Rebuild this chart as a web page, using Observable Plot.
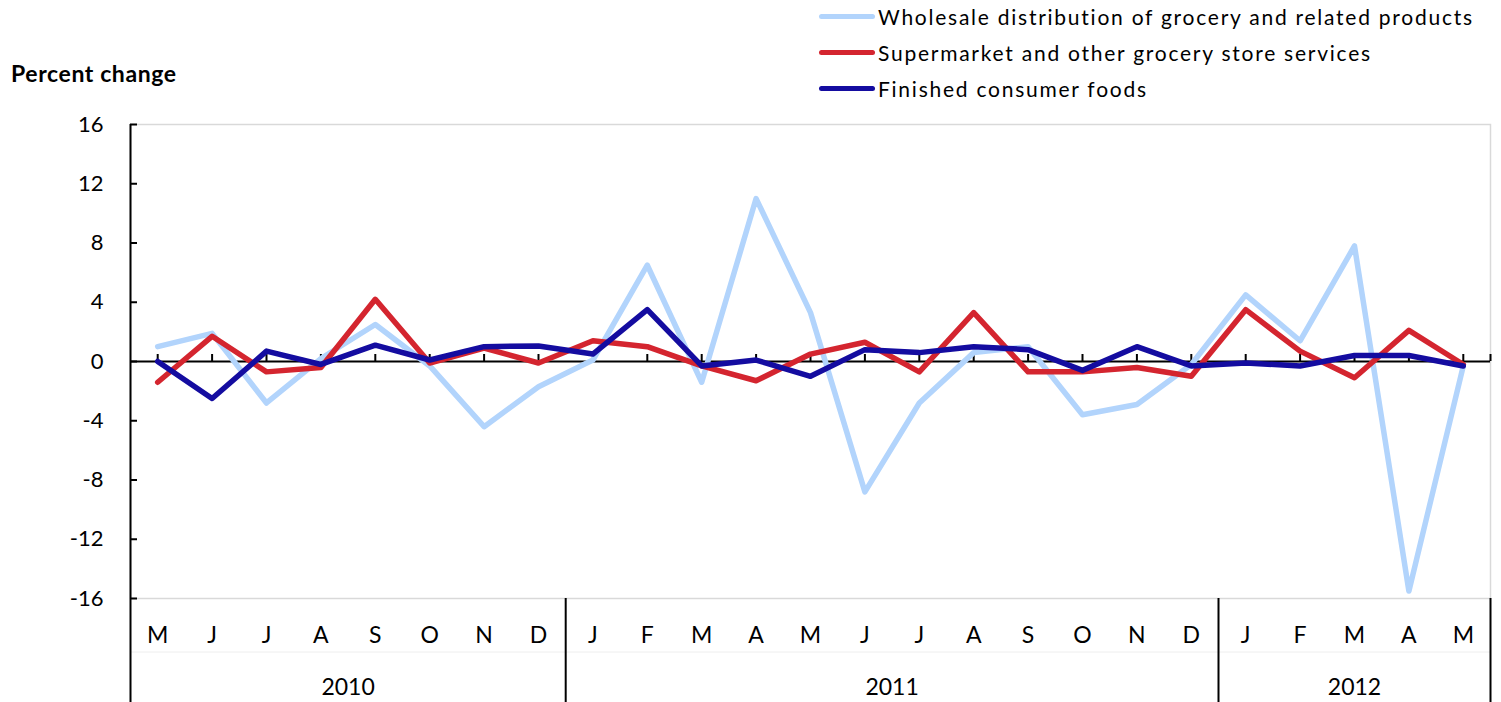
<!DOCTYPE html>
<html><head><meta charset="utf-8">
<script src="https://cdn.jsdelivr.net/npm/d3@7"></script>
<script src="https://cdn.jsdelivr.net/npm/@observablehq/plot@0.6"></script>
<style>
body{margin:0;background:#fff;font-family:Lato,sans-serif;color:#000;}
#header{position:relative;width:1501px;height:100px;}
#title{position:absolute;left:11px;top:62px;font-size:23px;line-height:23px;font-weight:bold;letter-spacing:0.6px;white-space:nowrap;}
.item{position:absolute;left:819px;height:21px;white-space:nowrap;}
.sw{position:absolute;left:0;top:8px;width:56px;height:5px;border-radius:3px;}
.lab{position:absolute;left:59px;top:0;font-size:21px;line-height:21px;letter-spacing:1.75px;}
svg{display:block;}
</style></head><body>
<div id="header"><div id="title">Percent change</div></div>
<div id="chart"></div>
<script>
const months = ["M","J","J","A","S","O","N","D","J","F","M","A","M","J","J","A","S","O","N","D","J","F","M","A","M"];
const years = ["2010","2011","2012"];
const yearCenters = [3.5, 13.5, 22];
const yearBounds = [7.5, 19.5, 24.5];
const yTicks = [-16,-12,-8,-4,0,4,8,12,16];
const seriesNames = ["Wholesale distribution of grocery and related products","Supermarket and other grocery store services","Finished consumer foods"];
const seriesColors = ["#b2d4fc","#d4252f","#140ca0"];
const wholesale   = [1.0,1.9,-2.8,0.2,2.5,-0.3,-4.4,-1.7,0.1,6.5,-1.4,11.0,3.3,-8.8,-2.8,0.6,1.0,-3.6,-2.9,-0.2,4.5,1.4,7.8,-15.5,-0.3];
const supermarket = [-1.4,1.7,-0.7,-0.4,4.2,-0.1,0.9,-0.1,1.4,1.0,-0.3,-1.3,0.5,1.3,-0.7,3.3,-0.7,-0.7,-0.4,-1.0,3.5,0.7,-1.1,2.1,-0.2];
const finished    = [0.0,-2.5,0.7,-0.2,1.1,0.1,1.0,1.05,0.5,3.5,-0.3,0.1,-1.0,0.8,0.6,1.0,0.8,-0.6,1.0,-0.3,-0.1,-0.3,0.4,0.4,-0.3];

const idx = d3.range(months.length);
const rows = idx.map(i => ({i, wholesale: wholesale[i], supermarket: supermarket[i], finished: finished[i]}));
const keys = ["wholesale","supermarket","finished"];

// legend
const header = document.getElementById("header");
const legendTops = [6, 42, 78];
seriesNames.forEach((name, k) => {
  const it = document.createElement("div");
  it.className = "item";
  it.style.top = legendTops[k] + "px";
  it.innerHTML = `<div class="sw" style="background:${seriesColors[k]}"></div><div class="lab">${name}</div>`;
  header.appendChild(it);
});

const chart = Plot.plot({
  width: 1501,
  height: 602,
  marginLeft: 130,
  marginRight: 11,
  marginTop: 24,
  marginBottom: 104,
  style: {fontFamily: "Lato, sans-serif", fontSize: "22px", color: "#000", background: "#fff"},
  x: {domain: [-0.5, 24.5], axis: null},
  y: {domain: [-16, 16], axis: null},
  marks: [
    Plot.frame({stroke: "#d9d9d9", strokeWidth: 1.5}),
    Plot.ruleY([-16], {x1: -0.5, x2: 24.5, dy: 53.5, stroke: "#eeeeee", strokeWidth: 1}),
    // y axis line (extends to bottom)
    Plot.ruleX([-0.5], {y1: 16, y2: -16, insetBottom: -104, stroke: "#000", strokeWidth: 2}),
    // separators between years in the label area
    Plot.ruleX(yearBounds, {y1: -16, y2: -16, insetBottom: -104, stroke: "#000", strokeWidth: 2}),
    // y ticks pointing inward
    Plot.ruleY(yTicks, {x1: -0.5, x2: -0.5, insetRight: -7, stroke: "#000", strokeWidth: 2}),
    Plot.axisY(yTicks, {tickSize: 0, tickPadding: 27, tickFormat: d => String(d), fontSize: 22, label: null}),
    // zero line with ticks upward
    Plot.ruleY([0], {stroke: "#000", strokeWidth: 2}),
    Plot.ruleX(idx.concat([24.5]), {y1: 0, y2: 0, insetBottom: 7, stroke: "#000", strokeWidth: 2}),
    // series
    ...keys.map((k, j) => Plot.line(rows, {x: "i", y: k, stroke: seriesColors[j], strokeWidth: 5.5})),
    // month and year labels
    Plot.axisX(idx, {tickSize: 0, tickPadding: 28, tickFormat: i => months[i], fontSize: 23, label: null}),
    Plot.axisX(yearCenters, {tickSize: 0, tickPadding: 80, tickFormat: d => years[yearCenters.indexOf(d)], fontSize: 23, label: null})
  ]
});
document.getElementById("chart").appendChild(chart);
</script></body></html>
